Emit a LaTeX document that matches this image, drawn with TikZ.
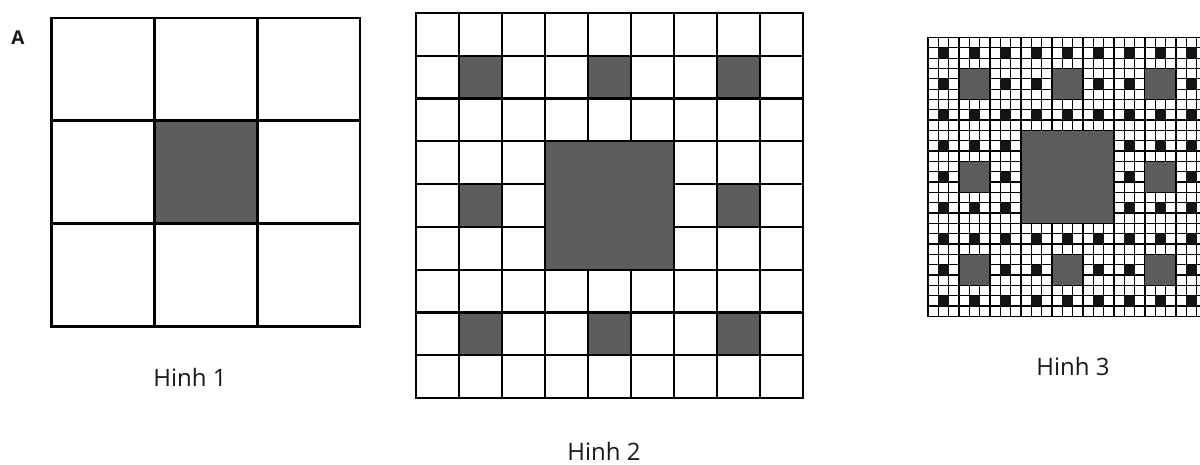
\documentclass[tikz,border=0pt]{standalone}
\usepackage{fontspec}
\setmainfont{Open Sans}
\definecolor{holegray}{gray}{0.36}
\definecolor{holedark}{gray}{0.08}
\begin{document}
\begin{tikzpicture}[x=1pt,y=-1pt,
  lbl/.style={font=\fontsize{24}{28}\selectfont, text=black!90, inner sep=0pt},
  gridone/.style={line width=2.8pt, line cap=rect},
  gridtwo/.style={line width=2.3pt, line cap=rect},
  gridthree/.style={line width=1.3pt, line cap=rect}]
\useasboundingbox (0,0) rectangle (1200,464);
\fill[white] (0,0) rectangle (1200,464);
\clip (0,0) rectangle (1200,464);

% ---- Hinh 1 (3x3) ----
\begin{scope}[shift={(51.5,18)}]
  \fill[holegray] (102.8,102.8) rectangle (205.6,205.6);
  \foreach \k in {0,...,3} {
    \draw[gridone] (\k*102.8,0) -- (\k*102.8,308.4);
    \draw[gridone] (0,\k*102.8) -- (308.4,\k*102.8);
  }
\end{scope}

% ---- Hinh 2 (9x9) ----
\begin{scope}[shift={(416,13)}]
  \foreach \k in {0,...,9} {
    \draw[gridtwo] (\k*43,0) -- (\k*43,385);
    \draw[gridtwo] (0,\k*42.78) -- (387,\k*42.78);
  }
  \draw[gridtwo] (0,385) -- (387,385);
  \fill[holegray, draw=black, line width=2.3pt] (3*43,3*42.78) rectangle (6*43,6*42.78);
  \foreach \a/\b in {0/0,0/1,0/2,1/0,1/2,2/0,2/1,2/2} {
    \fill[holegray, draw=black, line width=2.3pt] (\a*129+43,\b*128.33+42.78) rectangle (\a*129+86,\b*128.33+85.56);
  }
\end{scope}

% ---- Hinh 3 (27x27) ----
\begin{scope}[shift={(928,37.5)}]
  \foreach \k in {0,...,27} {
    \draw[gridthree] (\k*10.33,0) -- (\k*10.33,278.9);
    \draw[gridthree] (0,\k*10.33) -- (278.9,\k*10.33);
  }
  \draw[line width=1.8pt] (0,0) rectangle (278.9,278.9);
  \fill[holegray, draw=black, line width=1.1pt] (9*10.33,9*10.33) rectangle (18*10.33,18*10.33);
  \foreach \a/\b in {0/0,0/1,0/2,1/0,1/2,2/0,2/1,2/2} {
    \fill[holegray, draw=black, line width=1.1pt] (\a*92.97+30.99,\b*92.97+30.99) rectangle (\a*92.97+61.98,\b*92.97+61.98);
    \foreach \c/\d in {0/0,0/1,0/2,1/0,1/2,2/0,2/1,2/2} {
      \fill[holedark] (\a*92.97+\c*30.99+10.33,\b*92.97+\d*30.99+10.33) rectangle (\a*92.97+\c*30.99+20.66,\b*92.97+\d*30.99+20.66);
    }
  }
\end{scope}

% ---- labels ----
\node[lbl, font=\fontsize{19}{22}\selectfont\bfseries] (labA) at (18,38) {A};
\node[lbl] (lab1) at (190,377) {Hinh 1};
\node[lbl] (lab2) at (604,451) {Hinh 2};
\node[lbl] (lab3) at (1073,366) {Hinh 3};
\end{tikzpicture}
\end{document}
